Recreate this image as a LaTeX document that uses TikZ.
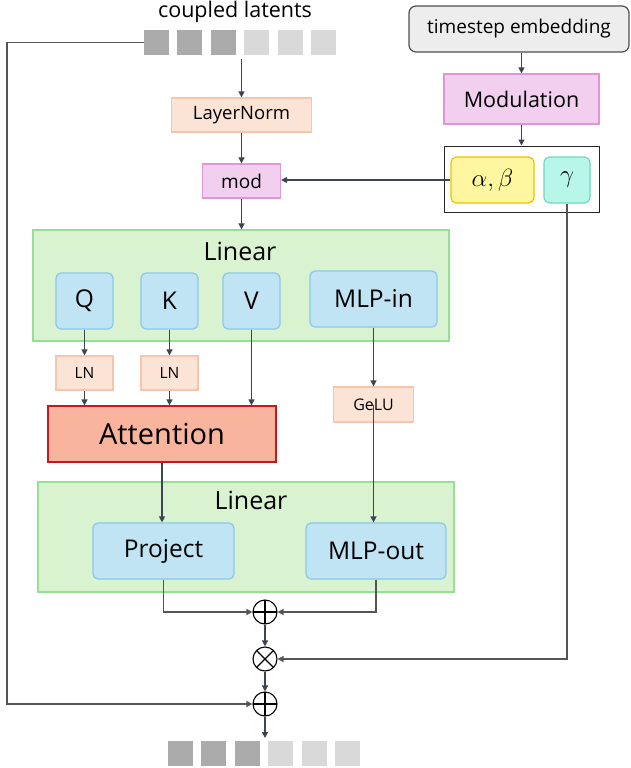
\documentclass[tikz,border=0pt]{standalone}
\usepackage{fontspec}
\setmainfont{Open Sans}
\usetikzlibrary{arrows.meta}
\definecolor{arrowc}{HTML}{3D4451}
\definecolor{loopc}{HTML}{555555}
\definecolor{lnfill}{HTML}{FBE3D6}
\definecolor{lndraw}{HTML}{F6C5AB}
\definecolor{modfill}{HTML}{F2CFEE}
\definecolor{moddraw}{HTML}{E294D8}
\definecolor{tsfill}{HTML}{EDEDED}
\definecolor{tsdraw}{HTML}{505050}
\definecolor{abfill}{HTML}{FFF7A0}
\definecolor{abdraw}{HTML}{F0C000}
\definecolor{gamfill}{HTML}{B9F6EA}
\definecolor{gamdraw}{HTML}{6CD9C2}
\definecolor{greenfill}{HTML}{D9F2D0}
\definecolor{greendraw}{HTML}{94E094}
\definecolor{bluefill}{HTML}{C1E4F5}
\definecolor{bluedraw}{HTML}{89C8EC}
\definecolor{attnfill}{HTML}{F9B49E}
\definecolor{attndraw}{HTML}{C8161D}
\definecolor{darksq}{HTML}{ABABAB}
\definecolor{lightsq}{HTML}{D9D9D9}
\newcommand\myfs[1]{\fontsize{#1}{#1}\selectfont}
\begin{document}
\begin{tikzpicture}[x=1pt,y=-1pt,
  sqbox/.style={minimum width=25pt,minimum height=25pt,inner sep=0pt},
  dsq/.style={sqbox,fill=darksq},
  lsq/.style={sqbox,fill=lightsq},
  arr/.style={-{Triangle[length=6pt,width=6pt]},draw=arrowc,line width=1.3pt},
  looparr/.style={-{Triangle[length=6pt,width=6pt]},draw=loopc,line width=1.3pt},
  lnbox/.style={fill=lnfill,draw=lndraw,line width=1.2pt,inner sep=0pt},
  modbox/.style={fill=modfill,draw=moddraw,line width=1.2pt,inner sep=0pt},
  bluebox/.style={fill=bluefill,draw=bluedraw,line width=1.2pt,rounded corners=5pt,inner sep=0pt,font=\myfs{24.5}},
  greenbox/.style={fill=greenfill,draw=greendraw,line width=1.2pt,inner sep=0pt},
  opcirc/.style={circle,draw,line width=1.1pt,minimum size=24pt,inner sep=0pt,fill=white},
  opplus/.style={opcirc,path picture={\draw[line width=1.1pt] (path picture bounding box.north) -- (path picture bounding box.south) (path picture bounding box.west) -- (path picture bounding box.east);}},
  optimes/.style={opcirc,path picture={\draw[line width=1.1pt] (path picture bounding box.north west) -- (path picture bounding box.south east) (path picture bounding box.north east) -- (path picture bounding box.south west);}}
]
\useasboundingbox (0,0) rectangle (631,768);

% top tokens
\node[font=\myfs{21.5}] (clt) at (235,12) {coupled latents};
\foreach \i in {0,1,2} {\node[dsq] (t\i) at ({156.5+33.4*\i},42.5) {};}
\foreach \i in {3,4,5} {\node[lsq] (t\i) at ({156.5+33.4*\i},42.5) {};}
% bottom tokens
\foreach \i in {0,1,2} {\node[dsq] (b\i) at ({180.5+33.4*\i},753) {};}
\foreach \i in {3,4,5} {\node[lsq] (b\i) at ({180.5+33.4*\i},753) {};}

\node[lnbox,minimum width=140pt,minimum height=34pt,font=\myfs{18.5}] (lnorm) at (241.5,115) {LayerNorm};
\node[modbox,minimum width=78pt,minimum height=34pt,font=\myfs{19}] (mod) at (241.5,181) {mod};

\node[fill=tsfill,draw=tsdraw,line width=1.2pt,rounded corners=7pt,minimum width=220pt,minimum height=46pt,inner sep=0pt,font=\myfs{19}] (ts) at (519,29) {timestep embedding};
\node[modbox,minimum width=155pt,minimum height=50pt,font=\myfs{21.5}] (modu) at (521.5,99) {Modulation};
\node[draw=black!85,line width=1pt,minimum width=155pt,minimum height=66pt,inner sep=0pt] (outer) at (521.5,179) {};
\node[fill=abfill,draw=abdraw,line width=1.2pt,rounded corners=6pt,minimum width=83pt,minimum height=46pt,inner sep=0pt,font=\myfs{27}] (ab) at (492.5,180) {$\alpha,\beta$};
\node[fill=gamfill,draw=gamdraw,line width=1.2pt,rounded corners=6pt,minimum width=46pt,minimum height=46pt,inner sep=0pt,font=\myfs{27}] (gam) at (567,180) {$\gamma$};

% first linear
\node[greenbox,minimum width=416pt,minimum height=111pt] (lin1) at (241,285.5) {};
\node[font=\myfs{25}] (lin1t) at (240,251) {Linear};
\node[bluebox,minimum width=57pt,minimum height=56pt] (q) at (84.5,301) {Q};
\node[bluebox,minimum width=57pt,minimum height=56pt] (k) at (169.5,301) {K};
\node[bluebox,minimum width=57pt,minimum height=56pt] (v) at (251.5,301) {V};
\node[bluebox,minimum width=127pt,minimum height=56pt] (mlpi) at (373.5,299) {MLP-in};

\node[lnbox,minimum width=57pt,minimum height=34pt,font=\myfs{15.5}] (lnq) at (84.5,373) {LN};
\node[lnbox,minimum width=57pt,minimum height=34pt,font=\myfs{15.5}] (lnk) at (169.5,373) {LN};
\node[lnbox,minimum width=80pt,minimum height=35pt,font=\myfs{16}] (gelu) at (373.5,404.5) {GeLU};

\node[fill=attnfill,draw=attndraw,line width=1.3pt,minimum width=228pt,minimum height=56pt,inner sep=0pt,font=\myfs{29}] (attn) at (162,434) {Attention};

% second linear
\node[greenbox,minimum width=416pt,minimum height=110pt] (lin2) at (246,537) {};
\node[font=\myfs{25}] (lin2t) at (251,500) {Linear};
\node[bluebox,minimum width=141pt,minimum height=56pt] (proj) at (163.5,551) {Project};
\node[bluebox,minimum width=140pt,minimum height=56pt] (mlpo) at (376,551) {MLP-out};

\node[opplus] (op1) at (265,612) {};
\node[optimes] (ot) at (265,659) {};
\node[opplus] (op2) at (265,704) {};

\coordinate (tin) at (241.5,59);
\coordinate (lc) at (7,42.5);
\coordinate (bout) at (265,738);

% connectors
\draw[arr] (tin) -- (lnorm.north);
\draw[arr] (lnorm.south) -- (mod.north);
\draw[arr] (mod.south) -- (mod.south |- lin1.north);
\draw[arr] (ts.south -| modu.north) -- (modu.north);
\draw[arr] (modu.south) -- (outer.north);
\draw[arr] (ab.west) -- (ab.west -| mod.east);
\draw[arr] (q.south) -- (lnq.north);
\draw[arr] (k.south) -- (lnk.north);
\draw[arr] (lnq.south) -- (lnq.south |- attn.north);
\draw[arr] (lnk.south) -- (lnk.south |- attn.north);
\draw[arr] (v.south) -- (v.south |- attn.north);
\draw[arr] (mlpi.south) -- (mlpi.south |- gelu.north);
\draw[arr] (gelu.center) -- (gelu.center |- mlpo.north);
\draw[arr] (attn.south) -- (attn.south |- proj.north);
\draw[looparr] (proj.south) |- (op1.west);
\draw[looparr] (mlpo.south) |- (op1.east);
\draw[arr] (op1.south) -- (ot.north);
\draw[arr] (ot.south) -- (op2.north);
\draw[arr] (op2.south) -- (bout);
\draw[looparr] (gam.south) |- (ot.east);
\draw[looparr] (t0.west) -- (lc) |- (op2.west);
\end{tikzpicture}
\end{document}
